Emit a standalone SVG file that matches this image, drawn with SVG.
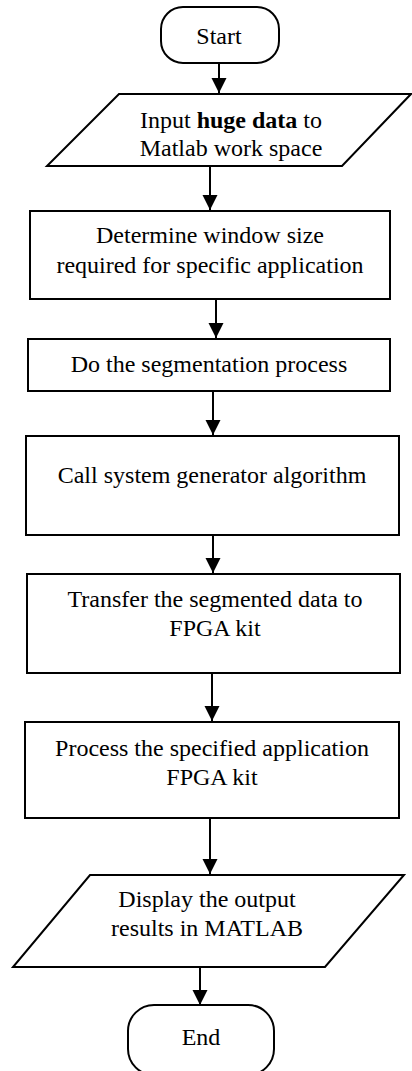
<svg xmlns="http://www.w3.org/2000/svg" width="412" height="1071" viewBox="0 0 412 1071">
<style>
.shape{fill:#fff;stroke:#000;stroke-width:2}
.lbl{font-size:24px;fill:#000;text-anchor:middle}
.conn line{stroke:#000;stroke-width:2;marker-end:url(#arr)}
</style>
<defs>
<marker id="arr" markerUnits="userSpaceOnUse" markerWidth="16" markerHeight="16" refX="15" refY="7.5" orient="auto" viewBox="0 0 16 16">
<path d="M0,0 L15,7.5 L0,15 z" fill="#000"/>
</marker>
</defs>
<rect width="412" height="1071" fill="#fff"/>
<g id="connectors" class="conn">
<line x1="219" y1="63" x2="219" y2="93"/>
<line x1="210" y1="166" x2="210" y2="210"/>
<line x1="216" y1="299" x2="216" y2="338"/>
<line x1="213" y1="391" x2="213" y2="435"/>
<line x1="213" y1="535" x2="213" y2="573"/>
<line x1="212" y1="673" x2="212" y2="721"/>
<line x1="210" y1="818" x2="210" y2="874"/>
<line x1="200" y1="967" x2="200" y2="1005"/>
</g>
<g font-family="Liberation Serif, Tinos, Times New Roman, DejaVu Serif, serif">
<g id="start">
<rect class="shape" x="161" y="7" width="118" height="56" rx="22" ry="22"/>
<text class="lbl" x="219" y="44">Start</text>
</g>
<g id="input">
<polygon class="shape" points="119,94 411,94 342,166 47,166"/>
<text class="lbl" x="231" y="128">Input <tspan font-weight="bold">huge data</tspan> to</text>
<text class="lbl" x="231" y="156">Matlab work space</text>
</g>
<g id="window">
<rect class="shape" x="30" y="211" width="360" height="88"/>
<text class="lbl" x="210" y="243">Determine window size</text>
<text class="lbl" x="210" y="273">required for specific application</text>
</g>
<g id="segment">
<rect class="shape" x="28" y="339" width="362" height="52"/>
<text class="lbl" x="209" y="372">Do the segmentation process</text>
</g>
<g id="sysgen">
<rect class="shape" x="26" y="436" width="373" height="99"/>
<text class="lbl" x="212" y="483">Call system generator algorithm</text>
</g>
<g id="transfer">
<rect class="shape" x="27" y="574" width="373" height="99"/>
<text class="lbl" x="215" y="607">Transfer the segmented data to</text>
<text class="lbl" x="215" y="636">FPGA kit</text>
</g>
<g id="process">
<rect class="shape" x="25" y="722" width="374" height="96"/>
<text class="lbl" x="212" y="756">Process the specified application</text>
<text class="lbl" x="212" y="785">FPGA kit</text>
</g>
<g id="display">
<polygon class="shape" points="90,875 404,875 325,967 13,967"/>
<text class="lbl" x="207" y="907">Display the output</text>
<text class="lbl" x="207" y="936">results in MATLAB</text>
</g>
<g id="end">
<rect class="shape" x="128" y="1005" width="146" height="70" rx="26" ry="26"/>
<text class="lbl" x="201" y="1045">End</text>
</g>
</g>
</svg>
